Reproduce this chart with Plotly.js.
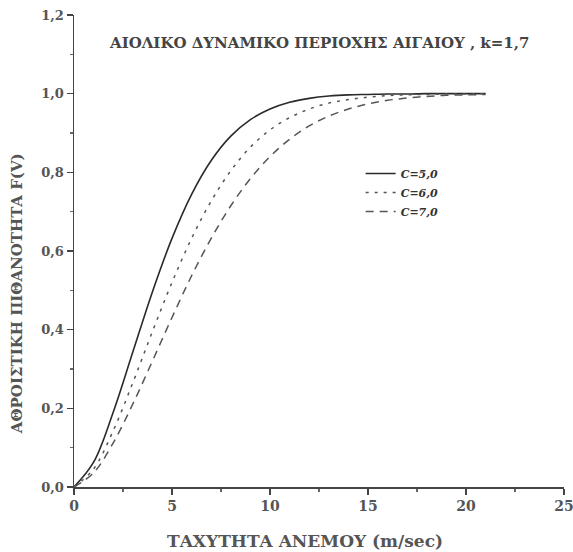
<!DOCTYPE html>
<html>
<head>
<meta charset="utf-8">
<script src="https://cdn.plot.ly/plotly-3.0.1.min.js"></script>
<style>html,body{margin:0;padding:0;background:#fff;}#chart{width:573px;height:552px;}</style>
</head>
<body>
<div id="chart"></div>
<script>
// Wind speed (m/sec)
var speed = [0,1,2,3,4,5,6,7,8,9,10,11,12,13,14,15,16,17,18,19,20,21];
// Cumulative probability F(V)
var fC5 = [0,0.063,0.190,0.343,0.496,0.632,0.744,0.830,0.892,0.934,0.961,0.978,0.988,0.994,0.997,0.998,0.999,0.999,1.0,1.0,1.0,1.0];
var fC6 = [0,0.046,0.143,0.265,0.395,0.520,0.632,0.727,0.804,0.864,0.908,0.939,0.961,0.976,0.985,0.991,0.995,0.997,0.998,0.999,0.999,1.0];
var fC7 = [0,0.036,0.112,0.211,0.320,0.431,0.537,0.632,0.715,0.784,0.840,0.884,0.918,0.943,0.961,0.974,0.983,0.989,0.993,0.996,0.997,0.998];
var seriesNames = ["C=5,0","C=6,0","C=7,0"];
var xTickVals = [0,5,10,15,20,25];
var xTickText = ["0","5","10","15","20","25"];
var yTickVals = [0,0.2,0.4,0.6,0.8,1.0,1.2];
var yTickText = ["0,0","0,2","0,4","0,6","0,8","1,0","1,2"];
var titleText = "ΑΙΟΛΙΚΟ ΔΥΝΑΜΙΚΟ ΠΕΡΙΟΧΗΣ ΑΙΓΑΙΟΥ , k=1,7";
var xTitle = "ΤΑΧΥΤΗΤΑ ΑΝΕΜΟΥ (m/sec)";
var yTitle = "ΑΘΡΟΙΣΤΙΚΗ ΠΙΘΑΝΟΤΗΤΑ F(V)";

var serif = "DejaVu Serif, Liberation Serif, serif";
var traces = [
  {x: speed, y: fC5, name: seriesNames[0], mode: "lines", line: {color: "#2a2a2a", width: 1.6, dash: "solid", shape: "spline"}},
  {x: speed, y: fC6, name: seriesNames[1], mode: "lines", line: {color: "#555", width: 1.5, dash: "3px,6px", shape: "spline"}},
  {x: speed, y: fC7, name: seriesNames[2], mode: "lines", line: {color: "#555", width: 1.5, dash: "8px,6px", shape: "spline"}}
];
var layout = {
  width: 573, height: 552,
  margin: {l: 74, r: 9, t: 15, b: 65},
  paper_bgcolor: "#fff", plot_bgcolor: "#fff",
  showlegend: true,
  legend: {x: 0.585, y: 0.695, xanchor: "left", yanchor: "top", bgcolor: "rgba(0,0,0,0)",
           font: {family: serif, size: 11, color: "#333", style: "italic", weight: "bold"}, tracegroupgap: 0},
  xaxis: {range: [0, 25], tickvals: xTickVals, ticktext: xTickText, ticks: "outside", ticklen: 6, tickwidth: 1.2,
          tickcolor: "#444", showline: true, linecolor: "#444", linewidth: 1.5, showgrid: false, zeroline: false,
          ticklabeloverflow: "allow",
          minor: {dtick: 2.5, ticks: "outside", ticklen: 3, tickcolor: "#666", showgrid: false},
          tickfont: {family: serif, size: 14, color: "#555", weight: "bold"}},
  yaxis: {range: [0, 1.2], tickvals: yTickVals, ticktext: yTickText, ticks: "outside", ticklen: 6, tickwidth: 1.2,
          tickcolor: "#444", showline: true, linecolor: "#444", linewidth: 1.5, showgrid: false, zeroline: false,
          minor: {dtick: 0.1, ticks: "outside", ticklen: 3, tickcolor: "#666", showgrid: false},
          tickfont: {family: serif, size: 13, color: "#555", weight: "bold"}},
  annotations: [
    {text: titleText, xref: "paper", yref: "paper", x: 0.5, y: 0.94, xanchor: "center", yanchor: "middle", showarrow: false,
     font: {family: serif, size: 15, color: "#444", weight: "bold"}},
    {text: yTitle, xref: "paper", yref: "paper", x: -0.115, y: 0.41, xanchor: "center", yanchor: "middle", showarrow: false,
     textangle: -90, font: {family: serif, size: 15, color: "#555", weight: "bold"}},
    {text: xTitle, xref: "paper", yref: "paper", x: 0.471, y: -0.114, xanchor: "center", yanchor: "middle", showarrow: false,
     font: {family: serif, size: 17, color: "#555", weight: "bold"}}
  ]
};
Plotly.newPlot("chart", traces, layout, {displayModeBar: false, staticPlot: true});
</script>
</body>
</html>
